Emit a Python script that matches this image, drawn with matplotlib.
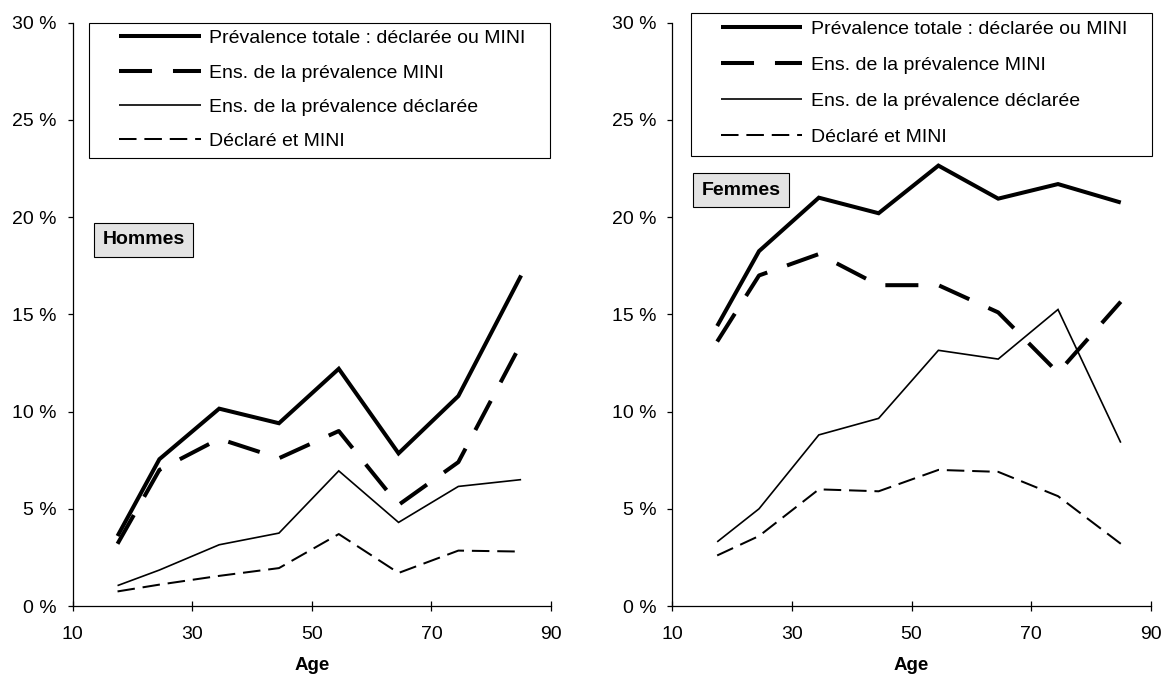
import matplotlib.pyplot as plt
from matplotlib.lines import Line2D
from matplotlib.patches import Rectangle
from matplotlib.ticker import FuncFormatter

plt.rcParams['font.family'] = ['Liberation Sans', 'DejaVu Sans']

# data ---------------------------------------------------------------------
ages = [17.5, 24.5, 34.5, 44.5, 54.5, 64.5, 74.5, 85]

labels = ['Prévalence totale : déclarée ou MINI',
          'Ens. de la prévalence MINI',
          'Ens. de la prévalence déclarée',
          'Déclaré et MINI']

hommes_total = [3.6, 7.55, 10.15, 9.4, 12.2, 7.85, 10.8, 17.0]
hommes_mini = [3.2, 7.0, 8.6, 7.6, 9.0, 5.2, 7.4, 13.5]
hommes_decl = [1.05, 1.85, 3.15, 3.75, 6.95, 4.3, 6.15, 6.5]
hommes_both = [0.75, 1.1, 1.55, 1.95, 3.7, 1.7, 2.85, 2.8]

femmes_total = [14.4, 18.25, 21.0, 20.2, 22.65, 20.95, 21.7, 20.75]
femmes_mini = [13.6, 17.0, 18.1, 16.5, 16.5, 15.1, 12.0, 15.65]
femmes_decl = [3.3, 5.0, 8.8, 9.65, 13.15, 12.7, 15.25, 8.4]
femmes_both = [2.6, 3.6, 6.0, 5.9, 7.0, 6.9, 5.65, 3.2]

# line styles ----------------------------------------------------------------
styles = [dict(lw=2.9, ls='-'),
          dict(lw=2.9, ls=(0, (8.2, 5.2))),
          dict(lw=1.2, ls='-'),
          dict(lw=1.45, ls=(0, (8.7, 3.9)))]

fig = plt.figure(figsize=(11.63, 6.75), dpi=100)
ax1 = fig.add_axes([0.0625, 0.1022, 0.4113, 0.8642])
ax2 = fig.add_axes([0.5781, 0.1022, 0.4113, 0.8642])

# (axes, name, series, name box centre, legend frame x0/x1/ybot/ytop, legend anchor, row spacing)
panels = [(ax1, 'Hommes', [hommes_total, hommes_mini, hommes_decl, hommes_both],
           (0.148, 0.6275), (0.0347, 0.9975, 0.7686, 1.0), (0.0966, 0.988), 0.86),
          (ax2, 'Femmes', [femmes_total, femmes_mini, femmes_decl, femmes_both],
           (0.1436, 0.713), (0.038, 1.002, 0.7715, 1.016), (0.101, 1.004), 0.94)]

for ax, name, series, boxc, frame, anchor, spacing in panels:
    for vals, lab, st in zip(series, labels, styles):
        ax.plot(ages, vals, color='black', label=lab, solid_capstyle='butt',
                dash_capstyle='butt', solid_joinstyle='miter', **st)
    ax.set_xlim(10, 90)
    ax.set_ylim(0, 30)
    ax.set_xticks([10, 30, 50, 70, 90])
    ax.set_yticks([0, 5, 10, 15, 20, 25, 30])
    ax.yaxis.set_major_formatter(FuncFormatter(lambda v, p: '%d %%' % v))
    ax.spines['top'].set_visible(False)
    ax.spines['right'].set_visible(False)
    ax.spines['left'].set_linewidth(0.9)
    ax.spines['bottom'].set_linewidth(0.9)
    ax.tick_params(axis='x', direction='inout', length=7, width=0.9, labelsize=14, pad=11)
    ax.tick_params(axis='y', direction='out', length=3.5, width=0.9, labelsize=14, pad=8)
    ax.set_xlabel('Age', fontsize=13.5, fontweight='bold', labelpad=10)

    # sex label box
    ax.text(boxc[0], boxc[1], name, transform=ax.transAxes, fontsize=14,
            fontweight='bold', va='center', ha='center',
            bbox=dict(boxstyle='square,pad=0.42', fc='#e3e3e3', ec='black', lw=0.8))

    # legend frame drawn by hand, legend content without frame
    x0, x1, yb, yt = frame
    ax.add_patch(Rectangle((x0, yb), x1 - x0, yt - yb, transform=ax.transAxes,
                           fc='white', ec='black', lw=0.8, clip_on=False, zorder=4))
    handles = [Line2D([], [], color='black', solid_capstyle='butt',
                      dash_capstyle='butt', **st) for st in styles]
    leg = ax.legend(handles, labels, loc='upper left', bbox_to_anchor=anchor,
                    fontsize=14, frameon=False, handlelength=4.2,
                    handletextpad=0.45, labelspacing=spacing, borderpad=0,
                    borderaxespad=0)
    leg.set_zorder(5)

fig.savefig('out.png', dpi=100)
